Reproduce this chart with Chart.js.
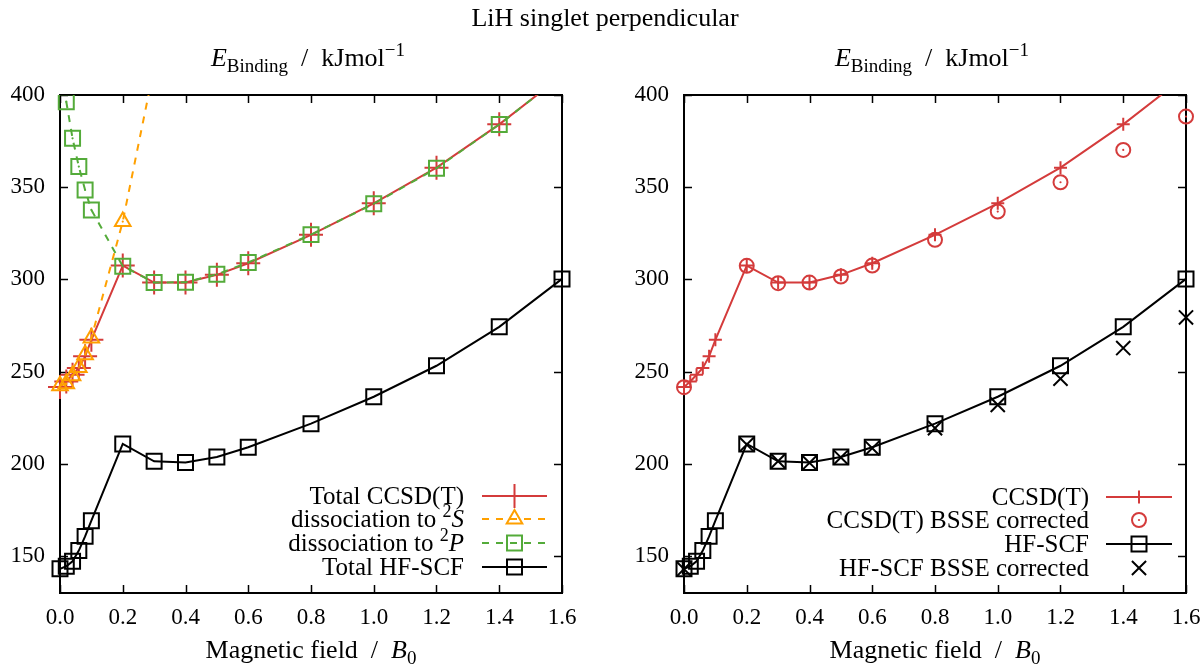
<!DOCTYPE html>
<html>
<head>
<meta charset="utf-8">
<title>LiH singlet perpendicular</title>
<script src="https://cdn.jsdelivr.net/npm/chart.js@4.4.1/dist/chart.umd.min.js"></script>
<style>
  body { margin: 0; background: #fff; }
  #wrap { position: relative; width: 1202px; height: 665px; }
  #wrap canvas { position: absolute; top: 0; }
  #title { position: absolute; top: 3px; left: 4px; width: 1202px; text-align: center;
           font: 26px 'Liberation Serif', serif; color: #000; z-index: 2; }
</style>
</head>
<body>
<div id="wrap">
  <div id="title">LiH singlet perpendicular</div>
  <canvas id="leftChart" width="601" height="665" style="left:0"></canvas>
  <canvas id="rightChart" width="601" height="665" style="left:601px"></canvas>
</div>
<script>
// magnetic field values (B0)
const fieldAll = [0, 0.02, 0.04, 0.06, 0.08, 0.1, 0.2, 0.3, 0.4, 0.5, 0.6, 0.8, 1.0, 1.2, 1.4, 1.6];
const fieldS = [0, 0.02, 0.04, 0.06, 0.08, 0.1, 0.2, 0.3];
const fieldBsse = [0, 0.2, 0.3, 0.4, 0.5, 0.6, 0.8, 1.0, 1.2, 1.4, 1.6];

// binding energies, kJ/mol
const ccsdTotal = [241.7, 244.7, 248.3, 252.0, 258.3, 267.3, 307.5, 298.3, 298.3, 302.5, 308.8, 324.2, 341.3, 360.6, 384.1, 410.5];
const dissocS = [242.4, 243.5, 247.8, 252.2, 259.2, 268.2, 331.4, 415];
const dissocP = [480, 396.4, 376.5, 361.2, 348.5, 337.7, 307.2, 298.3, 298.5, 302.8, 309.2, 324.3, 341.0, 360.3, 384.0, 410.5];
const hfTotal = [143.1, 144.5, 147.2, 153.0, 160.7, 169.2, 210.8, 201.4, 200.8, 203.7, 209.0, 221.8, 236.4, 253.2, 274.3, 300.3];
const ccsdBsse = [241.6, 307.4, 298.0, 298.3, 301.6, 307.5, 321.5, 336.8, 352.7, 370.2, 388.3];
const hfBsse = [143.0, 210.5, 201.5, 200.6, 203.5, 208.5, 219.4, 232.0, 246.2, 262.8, 279.4];

const xTicks = [0, 0.2, 0.4, 0.6, 0.8, 1.0, 1.2, 1.4, 1.6];
const yTicks = [150, 200, 250, 300, 350, 400];

const RED = '#d43b3b', ORANGE = '#ffa000', GREEN = '#54ab3a', BLACK = '#000';
const FONT = "'Liberation Serif'";
const FS = 23;       // tick labels
const FS_KEY = 25;   // key text
const FS_TITLE = 26; // axis titles

function pairs(xs, ys) {
  return xs.map((x, i) => ({ x: x, y: ys[i] }));
}

// draws text made of plain / italic / sub / sup pieces
function drawRich(ctx, segs, x, y, align, size) {
  const parts = segs.map(s => typeof s === 'string' ? { t: s } : s);
  const fontOf = p => (p.it ? 'italic ' : '') + Math.round(size * (p.sub || p.sup ? 0.72 : 1)) + 'px ' + FONT;
  let w = 0;
  parts.forEach(p => { ctx.font = fontOf(p); p.w = ctx.measureText(p.t).width; w += p.w; });
  let cx = align === 'right' ? x - w : align === 'center' ? x - w / 2 : x;
  ctx.textAlign = 'left';
  ctx.textBaseline = 'alphabetic';
  parts.forEach(p => {
    ctx.font = fontOf(p);
    const dy = p.sub ? size * 0.24 : p.sup ? -size * 0.4 : 0;
    ctx.fillText(p.t, cx, y + dy);
    cx += p.w;
  });
}

function dot(ctx, x, y, color) {
  ctx.fillStyle = color;
  ctx.beginPath();
  ctx.arc(x, y, 1.1, 0, Math.PI * 2);
  ctx.fill();
}

const gnuplotLook = {
  id: 'gnuplotLook',
  beforeDatasetsDraw(chart) {
    const { ctx, chartArea: a, scales: { x, y } } = chart;
    ctx.save();
    ctx.strokeStyle = BLACK;
    ctx.lineWidth = 1.5;
    ctx.beginPath();
    x.ticks.forEach(t => {
      const px = Math.round(x.getPixelForValue(t.value)) + 0.5;
      ctx.moveTo(px, a.bottom); ctx.lineTo(px, a.bottom - 8);
      ctx.moveTo(px, a.top); ctx.lineTo(px, a.top + 8);
    });
    y.ticks.forEach(t => {
      const py = Math.round(y.getPixelForValue(t.value)) + 0.5;
      ctx.moveTo(a.left, py); ctx.lineTo(a.left + 8, py);
      ctx.moveTo(a.right, py); ctx.lineTo(a.right - 8, py);
    });
    ctx.stroke();
    ctx.lineWidth = 2;
    ctx.strokeRect(a.left, a.top, a.right - a.left, a.bottom - a.top);
    ctx.restore();
  },
  afterDatasetsDraw(chart) {
    const { ctx, chartArea: a } = chart;
    ctx.save();
    chart.data.datasets.forEach((ds, i) => {
      if (!ds.dot) return;
      chart.getDatasetMeta(i).data.forEach(pt => {
        if (pt.y >= a.top && pt.y <= a.bottom) dot(ctx, pt.x, pt.y, ds.borderColor);
      });
    });
    ctx.restore();
  },
  afterDraw(chart, args, opts) {
    const { ctx, chartArea: a } = chart;
    const mid = (a.left + a.right) / 2;
    ctx.save();
    ctx.fillStyle = BLACK;
    drawRich(ctx, [{ t: 'E', it: true }, { t: 'Binding', sub: true }, '  /  kJmol', { t: '−1', sup: true }], mid - 3, 66, 'center', FS_TITLE);
    drawRich(ctx, ['Magnetic field  /  ', { t: 'B', it: true }, { t: '0', sub: true }], mid, 658, 'center', FS_TITLE);

    // key, text on the left of the sample like gnuplot
    chart.data.datasets.forEach((ds, i) => {
      const ry = opts.rows[i];
      ctx.fillStyle = BLACK;
      drawRich(ctx, ds.rich, opts.textRight, ry + 8, 'right', FS_KEY);
      if (ds.showLine !== false) {
        ctx.strokeStyle = ds.borderColor;
        ctx.lineWidth = ds.borderWidth;
        ctx.setLineDash(ds.borderDash || []);
        ctx.beginPath();
        ctx.moveTo(opts.lineFrom, ry);
        ctx.lineTo(opts.lineTo, ry);
        ctx.stroke();
        ctx.setLineDash([]);
      }
      const mx = (opts.lineFrom + opts.lineTo) / 2;
      ctx.strokeStyle = ds.borderColor;
      ctx.fillStyle = 'rgba(0,0,0,0)';
      ctx.lineWidth = ds.pointBorderWidth;
      Chart.helpers.drawPoint(ctx, { pointStyle: ds.pointStyle, radius: ds.pointRadius, rotation: 0, borderWidth: ds.pointBorderWidth }, mx, ry);
      if (ds.dot) dot(ctx, mx, ry, ds.borderColor);
    });
    ctx.restore();
  }
};

function series(label, rich, xs, ys, color, style, radius, extra) {
  return Object.assign({
    label: label,
    rich: rich,
    data: pairs(xs, ys),
    borderColor: color,
    pointBorderColor: color,
    backgroundColor: 'rgba(0,0,0,0)',
    pointBackgroundColor: 'rgba(0,0,0,0)',
    borderWidth: 2,
    pointBorderWidth: 2,
    pointStyle: style,
    pointRadius: radius,
    pointHoverRadius: radius,
    tension: 0,
    clip: { left: 14, right: 14, top: 0, bottom: 14 }
  }, extra || {});
}

function makeChart(id, datasets, yWidth, padRight, key) {
  return new Chart(document.getElementById(id), {
    type: 'line',
    data: { datasets: datasets },
    options: {
      responsive: false,
      animation: false,
      events: [],
      layout: { padding: { top: 95, right: padRight, left: 0, bottom: 0 } },
      plugins: { legend: { display: false }, tooltip: { enabled: false }, gnuplotLook: key },
      scales: {
        x: {
          type: 'linear', min: 0, max: 1.6,
          grid: { display: false, drawTicks: false },
          border: { display: false },
          afterBuildTicks: s => { s.ticks = xTicks.map(v => ({ value: v })); },
          afterFit: s => { s.height = 72; s.paddingLeft = 0; s.paddingRight = 0; },
          ticks: { padding: 11, color: BLACK, maxRotation: 0, autoSkip: false, font: { family: FONT, size: FS },
                   callback: v => v.toFixed(1) }
        },
        y: {
          type: 'linear', min: 130, max: 400,
          grid: { display: false, drawTicks: false },
          border: { display: false },
          afterBuildTicks: s => { s.ticks = yTicks.map(v => ({ value: v })); },
          afterFit: s => { s.width = yWidth; s.paddingTop = 0; s.paddingBottom = 0; },
          ticks: { padding: 15, color: BLACK, font: { family: FONT, size: FS }, callback: v => String(v) }
        }
      }
    },
    plugins: [gnuplotLook]
  });
}

makeChart('leftChart', [
  series('Total CCSD(T)', ['Total CCSD(T)'], fieldAll, ccsdTotal, RED, 'cross', 12, { order: 4 }),
  series('dissociation to ²S', ['dissociation to ', { t: '2', sup: true }, { t: 'S', it: true }], fieldS, dissocS, ORANGE, 'triangle', 9,
         { order: 3, borderDash: [7, 7], dot: true }),
  series('dissociation to ²P', ['dissociation to ', { t: '2', sup: true }, { t: 'P', it: true }], fieldAll, dissocP, GREEN, 'rect', 10.6,
         { order: 2, borderDash: [7, 7], dot: true }),
  series('Total HF-SCF', ['Total HF-SCF'], fieldAll, hfTotal, BLACK, 'rect', 10.6, { order: 1 })
], 60, 39, { textRight: 464, lineFrom: 482, lineTo: 547, rows: [496, 519, 543, 567] });

makeChart('rightChart', [
  series('CCSD(T)', ['CCSD(T)'], fieldAll, ccsdTotal, RED, 'cross', 6.5, { order: 4 }),
  series('CCSD(T) BSSE corrected', ['CCSD(T) BSSE corrected'], fieldBsse, ccsdBsse, RED, 'circle', 7,
         { order: 3, showLine: false, dot: true }),
  series('HF-SCF', ['HF-SCF'], fieldAll, hfTotal, BLACK, 'rect', 10.6, { order: 2 }),
  series('HF-SCF BSSE corrected', ['HF-SCF BSSE corrected'], fieldBsse, hfBsse, BLACK, 'crossRot', 10, { order: 1, showLine: false })
], 83, 16, { textRight: 488, lineFrom: 505, lineTo: 571, rows: [497, 520, 544, 568] });
</script>
</body>
</html>
